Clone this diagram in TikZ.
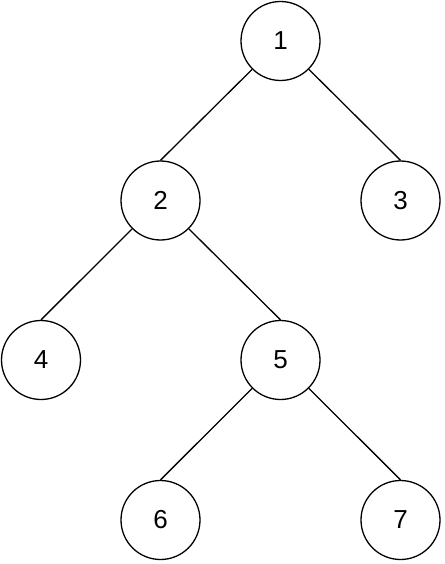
\documentclass[tikz,border=0pt]{standalone}
\usepackage{fontspec}
\setmainfont{Liberation Sans}
\begin{document}
\begin{tikzpicture}[x=1pt,y=-1pt,
  treenode/.style={circle,draw=black,line width=1.3pt,minimum size=79pt,inner sep=0pt,font=\fontsize{26}{30}\selectfont},
  edge/.style={draw=black,line width=1.3pt}]
\useasboundingbox (0,0) rectangle (444,564);
\node[treenode] (n1) at (280.5,41) {1};
\node[treenode] (n2) at (160.5,200.5) {2};
\node[treenode] (n3) at (400.5,200.5) {3};
\node[treenode] (n4) at (41,360) {4};
\node[treenode] (n5) at (280.5,360) {5};
\node[treenode] (n6) at (160.5,520) {6};
\node[treenode] (n7) at (400.5,520) {7};
\draw[edge] (n1.-135) -- (n2.north);
\draw[edge] (n1.-45) -- (n3.north);
\draw[edge] (n2.-135) -- (n4.north);
\draw[edge] (n2.-45) -- (n5.north);
\draw[edge] (n5.-135) -- (n6.north);
\draw[edge] (n5.-45) -- (n7.north);
\end{tikzpicture}
\end{document}
